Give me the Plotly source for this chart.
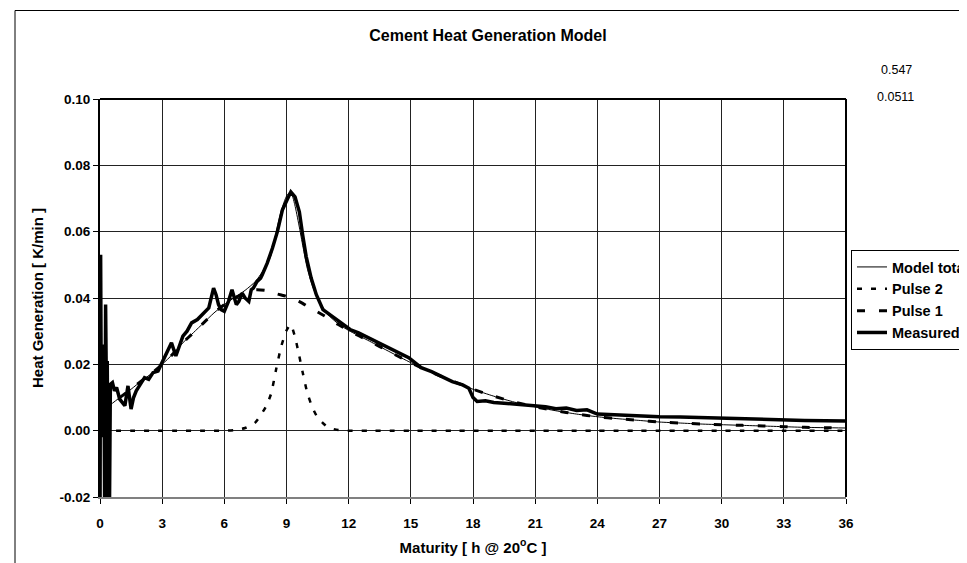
import plotly.graph_objects as go

# ---- data ----
x_model = [0.1, 0.5, 1, 1.5, 2, 2.5, 3, 3.5, 4, 4.5, 5, 5.5, 6, 6.5, 7, 7.5, 8,
           8.25, 8.5, 8.75, 9, 9.2, 9.4, 9.6, 9.8, 10, 10.25, 10.5, 11, 11.5, 12,
           13, 14, 15, 16, 17, 18, 19, 20, 21, 22, 23, 24, 25, 26, 27, 28, 29, 30,
           31, 32, 33, 34, 35, 36]
pulse1 = [0.006, 0.0078, 0.0102, 0.0125, 0.015, 0.0173, 0.020, 0.023, 0.0265, 0.0295,
          0.0325, 0.0355, 0.038, 0.040, 0.0415, 0.0425, 0.0423, 0.0418, 0.0413, 0.0409,
          0.0405, 0.0401, 0.0396, 0.039, 0.0383, 0.0375, 0.0367, 0.0358, 0.034, 0.032,
          0.0302, 0.027, 0.0237, 0.0205, 0.0176, 0.015, 0.0125, 0.0104, 0.0086, 0.0072,
          0.006, 0.005, 0.0042, 0.0036, 0.0031, 0.0026, 0.0023, 0.002, 0.0018, 0.0016,
          0.0014, 0.0012, 0.001, 0.0009, 0.0008]
pulse2 = [0, 0, 0, 0, 0, 0, 0, 0, 0, 0, 0, 0, 0, 0.0002, 0.0008, 0.0025, 0.0072,
          0.011, 0.0185, 0.0255, 0.0302, 0.032, 0.0285, 0.023, 0.017, 0.0115, 0.007,
          0.004, 0.001, 0.0002, 0, 0, 0, 0, 0, 0, 0, 0, 0, 0, 0, 0, 0, 0, 0, 0, 0, 0,
          0, 0, 0, 0, 0, 0, 0]
model_total = [0.006, 0.0078, 0.0102, 0.0125, 0.015, 0.0173, 0.020, 0.023, 0.0265, 0.0295,
               0.0325, 0.0355, 0.038, 0.0402, 0.0423, 0.045, 0.0495, 0.0528, 0.0598, 0.0664,
               0.0707, 0.0721, 0.0681, 0.062, 0.0553, 0.049, 0.0437, 0.0398, 0.035, 0.0322,
               0.0302, 0.027, 0.0237, 0.0205, 0.0176, 0.015, 0.0125, 0.0104, 0.0086, 0.0072,
               0.006, 0.005, 0.0042, 0.0036, 0.0031, 0.0026, 0.0023, 0.002, 0.0018, 0.0016,
               0.0014, 0.0012, 0.001, 0.0009, 0.0008]

x_meas = [0.00, 0.03, 0.07, 0.11, 0.15, 0.19, 0.23, 0.27, 0.31, 0.35, 0.39, 0.45, 0.50,
          0.6, 0.7, 0.8, 0.95, 1.1, 1.2, 1.35, 1.5, 1.62, 1.75, 1.9, 2.15, 2.35, 2.56,
          2.8, 3.0, 3.2, 3.45, 3.66, 3.85, 4.0, 4.2, 4.42, 4.7, 5.0, 5.25, 5.48, 5.6,
          5.72, 5.85, 6.0, 6.2, 6.37, 6.5, 6.58, 6.7, 6.86, 7.0, 7.18, 7.3, 7.4, 7.58,
          7.75, 7.83, 8.07, 8.32, 8.56, 8.8, 9.05, 9.21, 9.41, 9.62, 9.78, 9.95, 10.19,
          10.44, 10.76, 11.09, 11.58, 12.07, 12.48, 12.97, 13.3, 13.62, 14.27, 14.9,
          15.5, 16.0, 16.5, 17.0, 17.5, 17.8, 18.0, 18.2, 18.6, 19.0, 19.5, 20.0, 20.5,
          21.0, 21.5, 22.0, 22.5, 23.0, 23.5, 24.0, 25.0, 26.0, 27.0, 28.0, 29.0, 30.0,
          31.0, 32.0, 33.0, 34.0, 35.0, 36.0]
measured = [-0.03, 0.053, -0.002, 0.026, 0.004, 0.021, -0.03, 0.038, 0.011, 0.021, -0.03,
            -0.03, 0.014, 0.0145, 0.012, 0.013, 0.0095, 0.0085, 0.0075, 0.0135, 0.0065,
            0.010, 0.012, 0.0135, 0.016, 0.0155, 0.0175, 0.018, 0.0205, 0.023, 0.0265,
            0.0225, 0.026, 0.0285, 0.030, 0.0325, 0.0335, 0.0355, 0.037, 0.043, 0.041,
            0.038, 0.0365, 0.036, 0.039, 0.0425, 0.040, 0.038, 0.039, 0.0415, 0.040,
            0.039, 0.0425, 0.043, 0.045, 0.046, 0.047, 0.0505, 0.055, 0.060, 0.0665,
            0.070, 0.072, 0.0705, 0.066, 0.059, 0.0525, 0.046, 0.041, 0.0365, 0.035,
            0.033, 0.0305, 0.0295, 0.028, 0.027, 0.026, 0.024, 0.022, 0.019, 0.0178,
            0.0163, 0.0148, 0.0138, 0.0128, 0.0100, 0.0088, 0.0090, 0.0085, 0.0083,
            0.0080, 0.0076, 0.0073, 0.0072, 0.0066, 0.0068, 0.0061, 0.0063, 0.0050,
            0.0047, 0.0044, 0.0042, 0.0041, 0.0039, 0.0037, 0.0036, 0.0034, 0.0033,
            0.0031, 0.0030, 0.0029]

x_ticks = [0, 3, 6, 9, 12, 15, 18, 21, 24, 27, 30, 33, 36]
y_ticks = [-0.02, 0.00, 0.02, 0.04, 0.06, 0.08, 0.10]
y_tick_text = ["-0.02", "0.00", "0.02", "0.04", "0.06", "0.08", "0.10"]
corner_values = ["0.547", "0.0511"]

# ---- layout geometry (pixels) ----
W, H = 967, 563
L, R, T, B = 92, 838, 91, 489
pw, ph = R - L, B - T


def px(x):
    return (x - L) / pw


def py(y):
    return (B - y) / ph


FONT = "Liberation Sans, Arial, sans-serif"

fig = go.Figure()
fig.add_trace(go.Scatter(x=x_model, y=pulse2, name="Pulse 2", mode="lines",
                         line=dict(color="black", width=2.5, dash="5px,9px", shape="spline", smoothing=0.6),
                         legendrank=2))
fig.add_trace(go.Scatter(x=x_model, y=pulse1, name="Pulse 1", mode="lines",
                         line=dict(color="black", width=3, dash="8px,14px", shape="spline", smoothing=0.6),
                         legendrank=3))
fig.add_trace(go.Scatter(x=x_model, y=model_total, name="Model total", mode="lines",
                         line=dict(color="black", width=1, shape="spline", smoothing=0.6),
                         legendrank=1))
fig.add_trace(go.Scatter(x=x_meas, y=measured, name="Measured", mode="lines",
                         line=dict(color="black", width=3.5),
                         legendrank=4))

fig.update_layout(
    width=W, height=H,
    margin=dict(l=L, r=W - R, t=T, b=H - B, autoexpand=False),
    paper_bgcolor="white", plot_bgcolor="white",
    font=dict(family=FONT, color="black"),
    showlegend=True,
    legend=dict(x=px(843), y=py(242), xanchor="left", yanchor="top",
                bordercolor="black", borderwidth=1, bgcolor="white",
                font=dict(family=FONT, size=14.5, color="black", weight="bold"),
                tracegroupgap=0, itemwidth=30),
    title=dict(text="<b>Cement Heat Generation Model</b>", x=480 / W, xref="container",
               y=1 - 27 / H, yref="container", xanchor="center", yanchor="middle",
               font=dict(family=FONT, size=16, color="black")),
)

fig.update_xaxes(range=[0, 36], tickvals=x_ticks, ticktext=[str(v) for v in x_ticks],
                 showgrid=True, gridcolor="#222", gridwidth=1, zeroline=False,
                 showline=True, linecolor="#808080", linewidth=2, mirror=False,
                 ticks="outside", ticklen=5, tickcolor="black", tickwidth=1,
                 ticklabelstandoff=8, automargin=False,
                 title=dict(text="<b>Maturity [ h @ 20<sup>o</sup>C ]</b>", standoff=12,
                            font=dict(family=FONT, size=15, color="black")),
                 tickfont=dict(family=FONT, size=13.5, color="black", weight="bold"))
fig.update_yaxes(range=[-0.02, 0.10], tickvals=y_ticks, ticktext=y_tick_text,
                 showgrid=True, gridcolor="#222", gridwidth=1, zeroline=False,
                 showline=True, linecolor="black", linewidth=2, mirror=False,
                 ticks="outside", ticklen=5, tickcolor="black", tickwidth=1,
                 automargin=False,
                 title=dict(text="<b>Heat Generation [ K/min ]</b>", standoff=12,
                            font=dict(family=FONT, size=15, color="black")),
                 tickfont=dict(family=FONT, size=13.5, color="black", weight="bold"))

# plot-area border (top and right) and outer chart border
fig.add_shape(type="line", xref="paper", yref="paper", x0=0, x1=1, y0=1, y1=1,
              line=dict(color="black", width=2))
fig.add_shape(type="line", xref="paper", yref="paper", x0=1, x1=1, y0=0, y1=1,
              line=dict(color="black", width=2))
fig.add_shape(type="rect", xref="paper", yref="paper", x0=px(7), x1=px(990),
              y0=py(590), y1=py(2.5), line=dict(color="black", width=1),
              fillcolor="rgba(0,0,0,0)", layer="above")

# free-floating values at top right
fig.add_annotation(text=corner_values[0], xref="paper", yref="paper", x=px(888), y=py(62),
                   showarrow=False, xanchor="center", yanchor="middle",
                   font=dict(family=FONT, size=12.5, color="black"))
fig.add_annotation(text=corner_values[1], xref="paper", yref="paper", x=px(887), y=py(89),
                   showarrow=False, xanchor="center", yanchor="middle",
                   font=dict(family=FONT, size=12.5, color="black"))

fig.write_html("out.html")
